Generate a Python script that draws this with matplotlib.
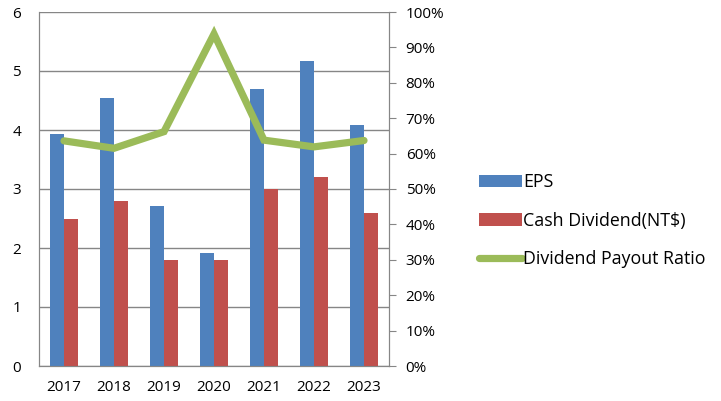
import numpy as np
import matplotlib
matplotlib.use("Agg")
import matplotlib.pyplot as plt
from matplotlib.ticker import PercentFormatter

years = ["2017", "2018", "2019", "2020", "2021", "2022", "2023"]
eps = [3.93, 4.55, 2.72, 1.92, 4.70, 5.17, 4.08]
cash_div = [2.5, 2.8, 1.8, 1.8, 3.0, 3.2, 2.6]
payout = [63.6, 61.5, 66.2, 93.8, 63.8, 61.9, 63.7]

plt.rcParams['font.family'] = ['Open Sans', 'DejaVu Sans']

fig = plt.figure(figsize=(7.21, 4.01), dpi=100)
ax = fig.add_axes([39/721, 35/401, 350/721, 354/401])
ax2 = ax.twinx()

x = np.arange(len(years))
w = 0.28
ax.bar(x - w/2, eps, w, color="#4F81BD", label="EPS", zorder=3)
ax.bar(x + w/2, cash_div, w, color="#C0504D", label="Cash Dividend(NT$)", zorder=3)
ax2.plot(x, payout, color="#9BBB59", lw=5.2, solid_joinstyle="miter",
         solid_capstyle="round", label="Dividend Payout Ratio")

ax.set_xlim(-0.5, len(years) - 0.5)
ax.set_ylim(0, 6)
ax2.set_ylim(0, 100)
ax.set_xticks(x)
ax.set_xticklabels(years)
ax.set_yticks(range(7))
ax2.set_yticks(range(0, 101, 10))
ax2.yaxis.set_major_formatter(PercentFormatter(decimals=0))

ax.grid(axis="y", color="#868686", lw=1, zorder=0)
for a in (ax, ax2):
    a.spines["top"].set_visible(False)
    for s in ("left", "right", "bottom"):
        a.spines[s].set_color("#868686")
ax.tick_params(axis="x", length=0, labelsize=11, pad=10)
ax.tick_params(axis="y", length=0, labelsize=11, pad=13)
ax2.tick_params(axis="y", length=5, color="#868686", labelsize=11, pad=7)

h1, l1 = ax.get_legend_handles_labels()
h2, l2 = ax2.get_legend_handles_labels()
fig.legend(h1 + h2, l1 + l2, loc="center left", bbox_to_anchor=(463/721, 0.45),
           frameon=False, fontsize=12.8, handlelength=2.4, handletextpad=0.1,
           labelspacing=1.15)

fig.savefig("out.png", dpi=100)
